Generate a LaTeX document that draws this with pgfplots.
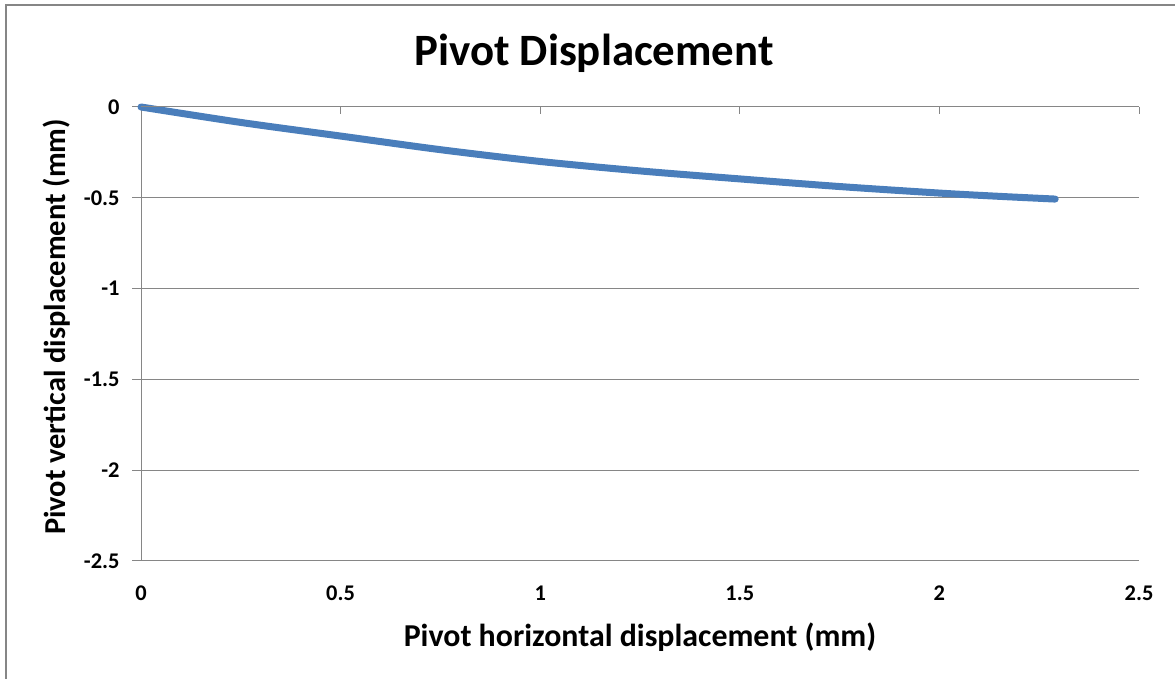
\documentclass[border=0pt]{standalone}
\usepackage{pgfplots}
\pgfplotsset{compat=1.18}
\usepackage{fontspec}
\setmainfont{Carlito}
\definecolor{linecol}{HTML}{4A7EBB}
\definecolor{gridcol}{HTML}{868686}
\begin{document}
\begin{tikzpicture}
\useasboundingbox (0,0) rectangle (1175bp,679bp);
\fill[gridcol] (4.5bp,0bp) rectangle (6.5bp,674.5bp);
\fill[gridcol] (4.5bp,672.5bp) rectangle (1175bp,674.5bp);
\begin{axis}[
  at={(141bp,118bp)}, anchor=south west,
  scale only axis, width=998bp, height=454bp,
  xmin=0, xmax=2.5, ymin=-2.5, ymax=0,
  axis lines*=left,
  x axis line style={draw=none},
  y axis line style={draw=gridcol, line width=1bp},
  xtick={0,0.5,1,1.5,2,2.5},
  xticklabels={0,0.5,1,1.5,2,2.5},
  ytick={-2.5,-2,-1.5,-1,-0.5,0},
  yticklabels={-2.5,-2,-1.5,-1,-0.5,0},
  x tick style={draw=none},
  y tick style={draw=gridcol, line width=1bp},
  major tick length=9bp,
  tick align=outside,
  ymajorgrids,
  major grid style={draw=gridcol, line width=1bp},
  tick label style={font=\fontsize{22.5}{26}\selectfont\bfseries},
  xticklabel style={yshift=-12bp},
  yticklabel style={xshift=-9bp},
  clip=false,
]
\addplot[linecol, line width=7bp, line cap=round, smooth] coordinates {
 (0,0) (0.25,-0.085) (0.5,-0.16) (0.75,-0.235) (1.0,-0.30) (1.25,-0.352)
 (1.5,-0.396) (1.75,-0.438) (2.0,-0.474) (2.15,-0.492) (2.29,-0.507)
};
\draw[gridcol, line width=1bp] (axis cs:0,0) -- (axis cs:2.5,0);
\draw[gridcol, line width=1bp] (axis cs:0.5,0) -- (axis cs:0.5,-0.036);
\draw[gridcol, line width=1bp] (axis cs:1,0) -- (axis cs:1,-0.036);
\draw[gridcol, line width=1bp] (axis cs:1.5,0) -- (axis cs:1.5,-0.036);
\draw[gridcol, line width=1bp] (axis cs:2,0) -- (axis cs:2,-0.036);
\draw[gridcol, line width=1bp] (axis cs:2.5,0) -- (axis cs:2.5,-0.036);
\end{axis}
\node[font=\fontsize{45}{50}\selectfont\bfseries] at (594bp,626bp) {Pivot Displacement};
\node[font=\fontsize{32}{36}\selectfont\bfseries] at (640bp,42bp) {Pivot horizontal displacement (mm)};
\node[font=\fontsize{30.5}{34}\selectfont\bfseries, rotate=90] at (57bp,352bp) {Pivot vertical displacement (mm)};
\end{tikzpicture}
\end{document}
